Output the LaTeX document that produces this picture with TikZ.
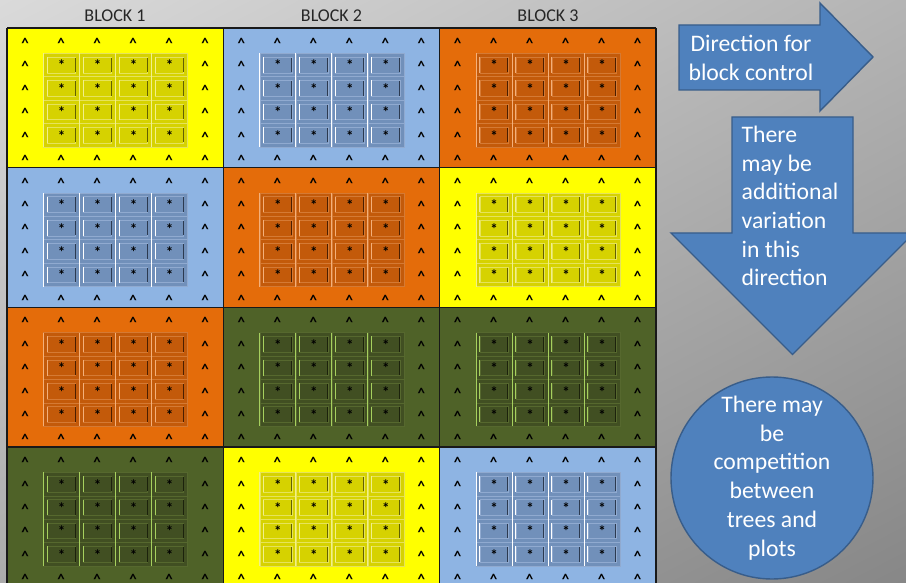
\documentclass[tikz,border=0pt]{standalone}
\usepackage{fontspec}
\setmainfont{Carlito}
\usetikzlibrary{shadings}

% palettes: A block fill, B plot fill, C plot edge, D highlight, E shadow
\definecolor{yelA}{HTML}{FFFF00}\definecolor{yelB}{HTML}{D6D200}
\definecolor{yelC}{HTML}{E6E35A}\definecolor{yelD}{HTML}{F2F08A}\definecolor{yelE}{HTML}{626000}
\definecolor{bluA}{HTML}{8EB4E3}\definecolor{bluB}{HTML}{7190BA}
\definecolor{bluC}{HTML}{90AAD0}\definecolor{bluD}{HTML}{FFFFFF}\definecolor{bluE}{HTML}{2C3A50}
\definecolor{oraA}{HTML}{E46C0A}\definecolor{oraB}{HTML}{C35A0A}
\definecolor{oraC}{HTML}{D57A34}\definecolor{oraD}{HTML}{F4B07A}\definecolor{oraE}{HTML}{4A1E00}
\definecolor{grnA}{HTML}{4F6228}\definecolor{grnB}{HTML}{414F22}
\definecolor{grnC}{HTML}{56682E}\definecolor{grnD}{HTML}{A6D05E}\definecolor{grnE}{HTML}{1C220C}
\definecolor{shapeblue}{HTML}{4F81BD}
\definecolor{shapeedge}{HTML}{385D8A}
\definecolor{bgUL}{HTML}{DADADA}\definecolor{bgUR}{HTML}{B4B4B4}
\definecolor{bgLL}{HTML}{ABABAB}\definecolor{bgLR}{HTML}{878787}

\tikzset{
  caret/.style={inner sep=0pt, anchor=base, font=\fontsize{15}{15}\bfseries, text=black},
  plotmark/.style={inner sep=0pt, anchor=base, font=\fontsize{15}{15}\bfseries, text=black},
  blocklabel/.style={inner sep=0pt, font=\fontsize{18}{20}\selectfont, text=black!85},
  shapebody/.style={fill=shapeblue, draw=shapeedge, line width=1.4pt, line join=miter},
  shapetext/.style={inner sep=0pt, text=white, font=\fontsize{23.7}{28.7}\selectfont},
  gridline/.style={draw=black!90, line width=1.6pt}
}

% one block: x0, y0, palette, name
\newcommand\plotblock[4]{%
  \fill[#3A] (#1,#2) rectangle ++(216.33,139.7);
  \foreach \i in {0,...,3}{
    \foreach \j in {0,...,3}{
      \pgfmathsetmacro\cx{#1+36.5+36*\i}
      \pgfmathsetmacro\cy{#2+25.3+23.4*\j}
      \filldraw[fill=#3B, draw=#3C, line width=0.6pt] (\cx,\cy) rectangle ++(36,23.4);
      \draw[#3C, line width=0.5pt] (\cx+3.6,\cy+3.7) rectangle ++(28.6,15.8);
      \draw[#3D, line width=0.9pt] (\cx+3.6,\cy+3.7) -- ++(0,15.8);
      \draw[#3E, line width=0.9pt] (\cx+31.6,\cy+4.5) -- ++(0,14.5);
      \node[plotmark] (#4-p\i\j) at (\cx+18,\cy+8.7+9) {*};
    }
    \draw[#3D, line width=0.9pt] (#1+36.5+36*\i,#2+25.3) -- ++(0,93.6);
  }
  \foreach \k in {0,...,5}{
    \node[caret] (#4-t\k) at (#1+18+36*\k,#2+11+9.5) {\textasciicircum};
    \node[caret] (#4-b\k) at (#1+18+36*\k,#2+128+9.5) {\textasciicircum};
  }
  \foreach \k in {1,...,4}{
    \node[caret] (#4-l\k) at (#1+18,#2+20.5+23.4*\k) {\textasciicircum};
    \node[caret] (#4-r\k) at (#1+198,#2+20.5+23.4*\k) {\textasciicircum};
  }
}

\begin{document}
\begin{tikzpicture}[x=1pt, y=-1pt]
  \useasboundingbox (0,0) rectangle (906,583);
  \begin{scope}
    \clip (0,0) rectangle (906,583);
    \shade[upper left=bgUL, upper right=bgUR, lower left=bgLL, lower right=bgLR]
      (0,0) rectangle (906,583);

    % the trial layout
    \plotblock{7}{28}{yel}{b11}
    \plotblock{223.33}{28}{blu}{b12}
    \plotblock{439.67}{28}{ora}{b13}
    \plotblock{7}{167.7}{blu}{b21}
    \plotblock{223.33}{167.7}{ora}{b22}
    \plotblock{439.67}{167.7}{yel}{b23}
    \plotblock{7}{307.4}{ora}{b31}
    \plotblock{223.33}{307.4}{grn}{b32}
    \plotblock{439.67}{307.4}{grn}{b33}
    \plotblock{7}{447.1}{grn}{b41}
    \plotblock{223.33}{447.1}{yel}{b42}
    \plotblock{439.67}{447.1}{blu}{b43}

    \foreach \x in {7,223.33,439.67,656}
      \draw[gridline] (\x,28) -- (\x,590);
    \foreach \y in {28,167.7,307.4,447.1}
      \draw[gridline] (7,\y) -- (656,\y);

    % arrows and note
    \draw[shapebody] (679,25) -- (820,25) -- (820,3) -- (873,57) -- (820,111)
      -- (820,90) -- (679,90) -- cycle;
    \draw[shapebody] (732,117) -- (853,117) -- (853,233) -- (914,233) -- (792.5,354.5)
      -- (671,233) -- (732,233) -- cycle;
    \node[shapebody, circle, minimum size=202pt, inner sep=0pt] (note) at (772,478) {};
  \end{scope}

  \node[blocklabel] (lab1) at (115,16) {BLOCK 1};
  \node[blocklabel] (lab2) at (331.5,16) {BLOCK 2};
  \node[blocklabel] (lab3) at (548,16) {BLOCK 3};

  \node[shapetext, align=center] (dirtext) at (751,58) {Direction for\\block control};
  \node[shapetext, align=left, anchor=west] (vartext) at (741.5,206)
    {There\\may be\\additional\\variation\\in this\\direction};
  \node[shapetext, align=center] (notetext) at (note.center)
    {There may\\be\\competition\\between\\trees and\\plots};
\end{tikzpicture}
\end{document}
